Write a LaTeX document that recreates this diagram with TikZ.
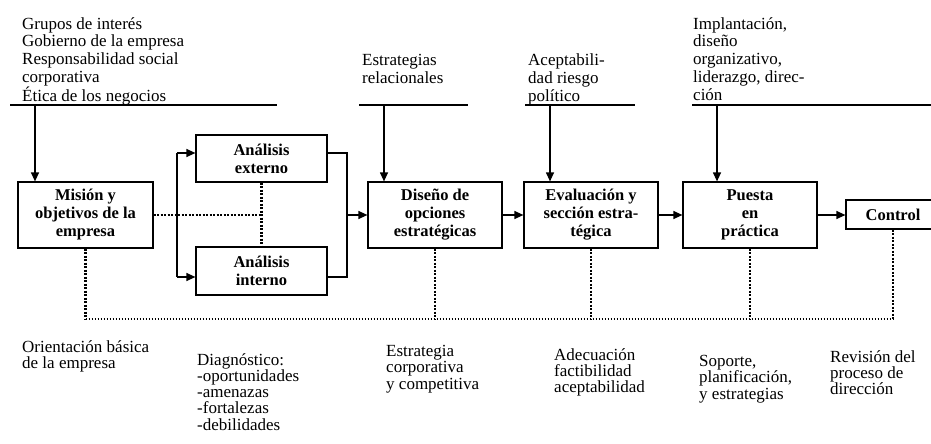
\documentclass[tikz,border=0pt]{standalone}
\usepackage{fontspec}
\setmainfont{Liberation Serif}
\usetikzlibrary{arrows.meta,positioning}

\begin{document}
\begin{tikzpicture}[x=1pt, y=-1pt, >={Triangle[length=9pt,width=8pt]},
    box/.style={draw, line width=1.2pt, align=center, inner sep=0pt,
        font=\bfseries\fontsize{16.5}{18}\selectfont},
    toptxt/.style={anchor=north west, align=left, inner sep=0pt,
        font=\fontsize{17}{17.8}\selectfont},
    bottxt/.style={anchor=north west, align=left, inner sep=0pt,
        font=\fontsize{17}{16.3}\selectfont},
    feed/.style={line width=1.2pt},
    dots/.style={line width=2.6pt, dash pattern=on 2pt off 1.5pt},
    thindots/.style={line width=1.6pt, dash pattern=on 1.6pt off 1.4pt}]
    \useasboundingbox (0,0) rectangle (931,444);

    % boxes of the process
    \node[box, minimum width=135pt, minimum height=66pt] (mision) at (85.5,215) {Misión y\\objetivos de la\\empresa};
    \node[box, minimum width=131pt, minimum height=47pt] (externo) at (261.5,158.5) {Análisis\\externo};
    \node[box, minimum width=131pt, minimum height=48pt] (interno) at (261.5,271) {Análisis\\interno};
    \node[box, minimum width=134pt, minimum height=66pt] (diseno) at (435,215) {Diseño de\\opciones\\estratégicas};
    \node[box, minimum width=134pt, minimum height=66pt] (evaluacion) at (591,215) {Evaluación y\\sección estra-\\tégica};
    \node[box, minimum width=134pt, minimum height=66pt] (puesta) at (750,215) {Puesta\\en\\práctica};
    \node[box, minimum width=94pt, minimum height=29pt] (control) at (893,214.5) {Control};

    % texts above
    \node[toptxt] (grupos) at (22,17) {Grupos de interés\\Gobierno de la empresa\\Responsabilidad social\\corporativa\\Ética de los negocios};
    \node[toptxt] (relacion) at (362,54) {Estrategias\\relacionales};
    \node[toptxt] (riesgo) at (528,54) {Aceptabili-\\dad riesgo\\político};
    \node[toptxt] (implanta) at (693,17) {Implantación,\\diseño\\organizativo,\\liderazgo, direc-\\ción};

    % texts below
    \node[bottxt] (orienta) at (22,340) {Orientación básica\\de la empresa};
    \node[bottxt] (diagno) at (197,353) {Diagnóstico:\\-oportunidades\\-amenazas\\-fortalezas\\-debilidades};
    \node[bottxt] (corpo) at (386,345) {Estrategia\\corporativa\\y competitiva};
    \node[bottxt] (adecua) at (554,348) {Adecuación\\factibilidad\\aceptabilidad};
    \node[bottxt] (soporte) at (699,355) {Soporte,\\planificación,\\y estrategias};
    \node[bottxt] (revision) at (830,350) {Revisión del\\proceso de\\dirección};

    % influences from above
    \coordinate (t1) at (35,105);
    \coordinate (t2) at (384,105);
    \coordinate (t3) at (550,105);
    \coordinate (t4) at (717,105);
    \draw[feed] (10,105) -- (277,105);
    \draw[feed] (359,105) -- (468,105);
    \draw[feed] (525,105) -- (635,105);
    \draw[feed] (692,105) -- (931,105);
    \draw[feed,->] (t1) -- (t1 |- mision.north);
    \draw[feed,->] (t2) -- (t2 |- diseno.north);
    \draw[feed,->] (t3) -- (t3 |- evaluacion.north);
    \draw[feed,->] (t4) -- (t4 |- puesta.north);

    % split into the two analyses
    \coordinate (ltop) at (177,153);
    \coordinate (lbot) at (177,277);
    \coordinate (rtop) at (347,153);
    \coordinate (rbot) at (347,277);
    \draw[feed] (ltop) -- (lbot);
    \draw[feed,->] (ltop) -- (ltop -| externo.west);
    \draw[feed,->] (lbot) -- (lbot -| interno.west);
    \draw[feed] (rtop -| externo.east) -- (rtop) -- (rbot) -- (rbot -| interno.east);
    \draw[feed,->] (rtop |- diseno.west) -- (diseno.west);
    \draw[dots] (externo.south) -- (interno.north);
    \draw[dots] (mision.east) -- (mision.east -| externo.south);

    % main flow
    \draw[feed,->] (diseno) -- (evaluacion);
    \draw[feed,->] (evaluacion) -- (puesta);
    \draw[feed,->] (puesta.east) -- (puesta.east -| control.west);

    % feedback line below
    \coordinate (base) at (0,319);
    \foreach \b in {mision,diseno,evaluacion,puesta,control}
        \draw[dots] (\b.south) -- (\b.south |- base);
    \draw[thindots] (mision.south |- base) -- (control.south |- base);
\end{tikzpicture}
\end{document}
